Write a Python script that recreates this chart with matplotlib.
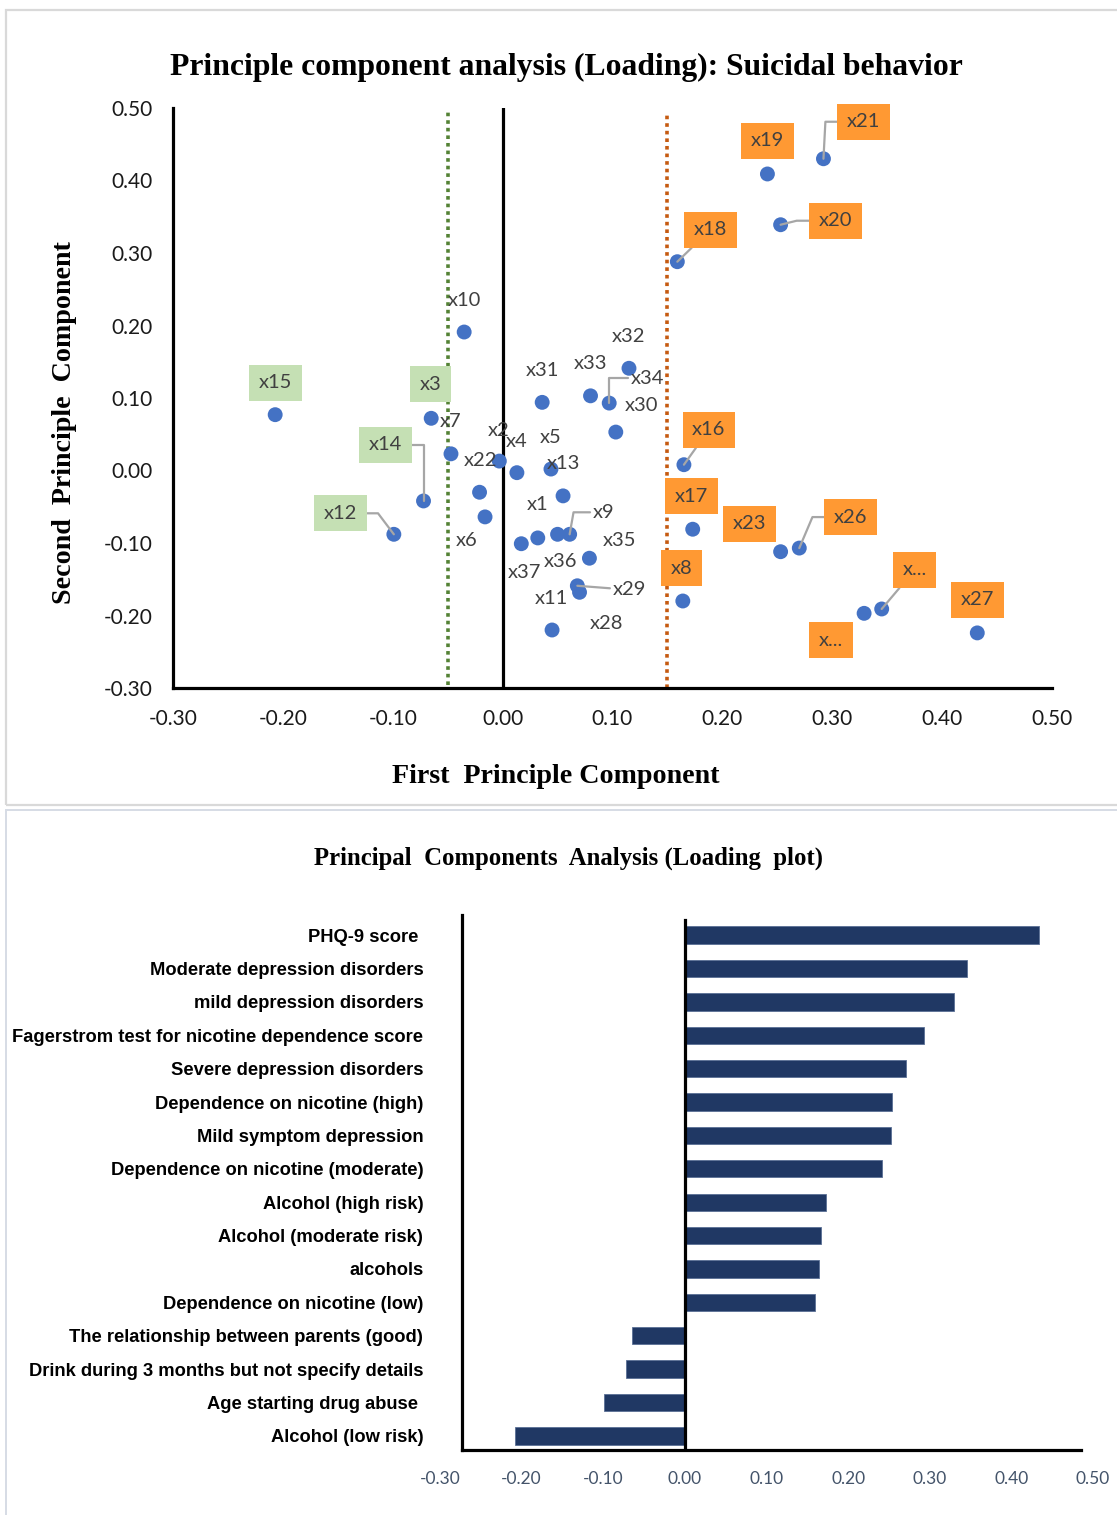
import matplotlib
matplotlib.use("Agg")
import matplotlib.pyplot as plt
from matplotlib.patches import Rectangle
from matplotlib.lines import Line2D
import numpy as np

# ---------------- data: loading plot (PC1, PC2) ----------------
var_names = ["x1", "x2", "x3", "x4", "x5", "x6", "x7", "x8", "x9", "x10",
             "x11", "x12", "x13", "x14", "x15", "x16", "x17", "x18", "x19", "x20",
             "x21", "x22", "x23", "x24", "x25", "x26", "x27", "x28", "x29", "x30",
             "x31", "x32", "x33", "x34", "x35", "x36", "x37"]
display_names = ["x1", "x2", "x3", "x4", "x5", "x6", "x7", "x8", "x9", "x10",
                 "x11", "x12", "x13", "x14", "x15", "x16", "x17", "x18", "x19", "x20",
                 "x21", "x22", "x23", "x...", "x...", "x26", "x27", "x28", "x29", "x30",
                 "x31", "x32", "x33", "x34", "x35", "x36", "x37"]
pc1 = [0.032, -0.003, -0.065, 0.013, 0.044, -0.016, -0.047, 0.164, 0.061, -0.035,
       0.045, -0.099, 0.055, -0.072, -0.207, 0.165, 0.173, 0.159, 0.241, 0.253,
       0.292, -0.021, 0.253, 0.329, 0.345, 0.270, 0.432, 0.070, 0.068, 0.103,
       0.036, 0.115, 0.080, 0.097, 0.079, 0.050, 0.017]
pc2 = [-0.093, 0.013, 0.072, -0.003, 0.002, -0.064, 0.023, -0.180, -0.088, 0.191,
       -0.220, -0.088, -0.035, -0.042, 0.077, 0.008, -0.081, 0.288, 0.409, 0.339,
       0.430, -0.030, -0.112, -0.197, -0.191, -0.107, -0.224, -0.168, -0.159, 0.053,
       0.094, 0.141, 0.103, 0.093, -0.121, -0.088, -0.101]
axis_ticks = [-0.30, -0.20, -0.10, 0.00, 0.10, 0.20, 0.30, 0.40, 0.50]
axis_tick_labels = ["-0.30", "-0.20", "-0.10", "0.00", "0.10", "0.20", "0.30", "0.40", "0.50"]
low_cut = -0.05
high_cut = 0.15

# ---------------- data: bar chart ----------------
bar_categories = ["PHQ-9 score ", "Moderate depression disorders", "mild depression disorders",
                  "Fagerstrom test for nicotine dependence score", "Severe depression disorders",
                  "Dependence on nicotine (high)", "Mild symptom depression",
                  "Dependence on nicotine (moderate)", "Alcohol (high risk)",
                  "Alcohol (moderate risk)", "alcohols", "Dependence on nicotine (low)",
                  "The relationship between parents (good)",
                  "Drink during 3 months but not specify details",
                  "Age starting drug abuse ", "Alcohol (low risk)"]
bar_values = [0.434, 0.346, 0.330, 0.293, 0.271, 0.254, 0.253, 0.241, 0.173,
              0.167, 0.164, 0.160, -0.065, -0.072, -0.099, -0.208]

# ---------------- styles ----------------
SERIF = "Liberation Serif"
SANS = "Lato"
BOLD_SANS = "Liberation Sans"
W, H = 1117, 1515

# label offsets in pixels (dx, dy) relative to the point, plus leader styles
label_offsets = {
    "x1": (0, 33), "x2": (-1, 31), "x3": (-1, 34), "x4": (0, 31), "x5": (0, 32),
    "x6": (-18, -24), "x7": (0, 32), "x8": (-1, 33), "x9": (34, 22), "x10": (0, 32),
    "x11": (-1, 31), "x12": (-53, 21), "x13": (0, 32), "x14": (-38, 56), "x15": (0, 32),
    "x16": (25, 35), "x17": (-1, 33), "x18": (33, 32), "x19": (0, 33), "x20": (55, 4),
    "x21": (40, 37), "x22": (1, 32), "x23": (-31, 28), "x24": (-33, -27), "x25": (33, 39),
    "x26": (51, 31), "x27": (0, 33), "x28": (27, -31), "x29": (52, -4), "x30": (26, 27),
    "x31": (0, 32), "x32": (0, 32), "x33": (0, 32), "x34": (38, 25), "x35": (30, 18),
    "x36": (3, -27), "x37": (3, -29),
}
leaders = {
    "x14": "angle,angleA=0,angleB=90",
    "x12": "angle,angleA=0,angleB=127",
    "x34": "angle,angleA=0,angleB=90",
    "x9": "angle,angleA=0,angleB=80",
    "x29": "arc3",
    "x18": "arc3",
    "x21": "angle,angleA=0,angleB=87",
    "x20": "angle,angleA=0,angleB=14",
    "x16": "arc3",
    "x26": "angle,angleA=0,angleB=67",
    "x25": "arc3",
}

fig = plt.figure(figsize=(W / 100, H / 100), dpi=100)

# panel borders
fig.patches.append(Rectangle((6 / W, 1 - 805 / H), 1.2, (805 - 10) / H, transform=fig.transFigure,
                             fill=False, ec="#D9D9D9", lw=1.6))
fig.patches.append(Rectangle((6 / W, 1 - 1560 / H), 1.2, (1560 - 810) / H, transform=fig.transFigure,
                             fill=False, ec="#D6DCE5", lw=1.4))

# ---------------- top: scatter loading plot ----------------
ax1 = fig.add_axes([173 / W, 1 - 688 / H, 879 / W, 580 / H])
ax1.set_xlim(-0.3, 0.5)
ax1.set_ylim(-0.3, 0.5)
for s in ["top", "right"]:
    ax1.spines[s].set_visible(False)
for s in ["left", "bottom"]:
    ax1.spines[s].set_linewidth(2.3)
    ax1.spines[s].set_color("black")
ax1.set_xticks(axis_ticks, axis_tick_labels)
ax1.set_yticks(axis_ticks, axis_tick_labels)
ax1.tick_params(length=0, labelsize=15, colors="#1a1a1a", pad=15)
for t in ax1.get_xticklabels() + ax1.get_yticklabels():
    t.set_fontfamily(SANS)

ax1.axvline(0, color="black", lw=2.3, zorder=1)
ax1.axvline(low_cut, ymin=0.005, ymax=0.995, color="#548235", lw=2.6, linestyle=(0, (1, 1.1)), zorder=1)
ax1.axvline(high_cut, ymin=0.0, ymax=0.99, color="#C55A11", lw=2.6, linestyle=(0, (1, 1.1)), zorder=1)

ax1.scatter(pc1, pc2, s=115, color="#4472C4", edgecolor="none", zorder=3)

for name, disp, x, y in zip(var_names, display_names, pc1, pc2):
    if x > high_cut:
        bbox = dict(boxstyle="square,pad=0.48", fc="#FF9933", ec="none")
    elif x < low_cut:
        bbox = dict(boxstyle="square,pad=0.48", fc="#C5E0B4", ec="none")
    else:
        bbox = None
    arrowprops = None
    if name in leaders:
        arrowprops = dict(arrowstyle="-", color="#A6A6A6", lw=1.6,
                          connectionstyle=leaders[name], shrinkA=0, shrinkB=0)
    ax1.annotate(disp, xy=(x, y), xytext=label_offsets[name], textcoords="offset pixels",
                 ha="center", va="center", fontsize=14.5, color="#404040", family=SANS,
                 bbox=bbox, arrowprops=arrowprops, zorder=4)

fig.text(566 / W, 1 - 67 / H, "Principle component analysis (Loading): Suicidal behavior",
         ha="center", va="center", fontsize=22.8, family=SERIF, weight="bold")
fig.text(556 / W, 1 - 776 / H, "First  Principle Component",
         ha="center", va="center", fontsize=20.2, family=SERIF, weight="bold")
fig.text(65 / W, 1 - 423 / H, "Second  Principle  Component", rotation=90,
         ha="center", va="center", fontsize=20.2, family=SERIF, weight="bold")

# ---------------- bottom: bar chart ----------------
ax2 = fig.add_axes([440 / W, 1 - 1450 / H, 653 / W, 535 / H])
pos = np.arange(len(bar_categories))
ax2.barh(pos, bar_values, height=0.52, color="#203864", edgecolor="#5a6f95", lw=0.6, zorder=2)
ax2.set_xlim(-0.3, 0.5)
ax2.set_ylim(15.42, -0.6)
for s in ax2.spines.values():
    s.set_visible(False)
ax2.axvline(0, ymin=0, ymax=0.99, color="black", lw=2.3, zorder=3)
ax2.add_line(Line2D([0.0337, 0.0337], [0, 1.0], transform=ax2.transAxes, color="black", lw=2.3, clip_on=False))
ax2.add_line(Line2D([0.0337, 0.981], [0, 0], transform=ax2.transAxes, color="black", lw=2.3, clip_on=False))
ax2.set_xticks(axis_ticks, axis_tick_labels)
ax2.set_yticks(pos, bar_categories)
ax2.tick_params(axis="x", length=0, labelsize=12.5, colors="#44546A", pad=15)
ax2.tick_params(axis="y", length=0, labelsize=13.2, pad=12)
for t in ax2.get_xticklabels():
    t.set_fontfamily(SANS)
for t in ax2.get_yticklabels():
    t.set_fontfamily(BOLD_SANS)
    t.set_fontweight("bold")

fig.text(569 / W, 1 - 858 / H, "Principal  Components  Analysis (Loading  plot)",
         ha="center", va="center", fontsize=17.8, family=SERIF, weight="bold")

fig.savefig("out.png", dpi=100)
